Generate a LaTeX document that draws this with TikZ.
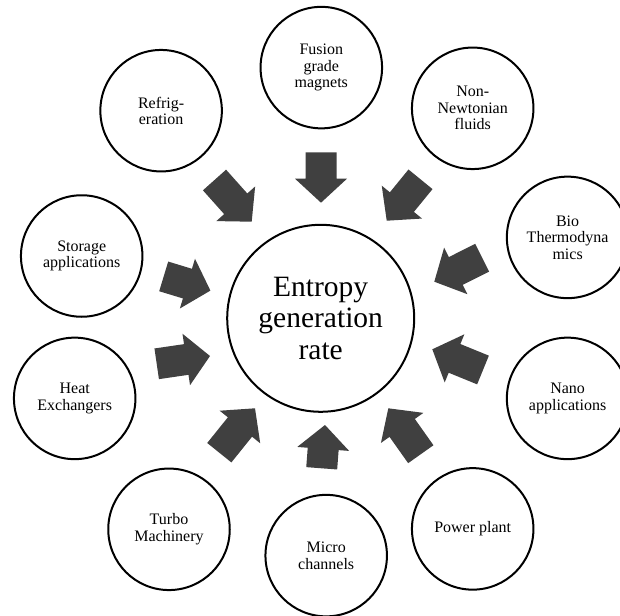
\documentclass[tikz,border=0pt]{standalone}
\usepackage{fontspec}
\setmainfont{Liberation Serif}
\usetikzlibrary{calc}
\definecolor{arrowgray}{RGB}{64,64,64}
\tikzset{
  outercirc/.style={circle, draw=black, line width=2pt, minimum size=121.5pt, inner sep=0pt,
    align=center, font=\fontsize{16}{16.5}\selectfont},
  centercirc/.style={circle, draw=black, line width=2pt, minimum size=187pt, inner sep=0pt,
    align=center, font=\fontsize{29.5}{31.6}\selectfont},
  arrowfill/.style={fill=arrowgray}
}
\newcommand{\blockarr}[2]{%
  \coordinate (nk) at ($(#2)!24pt!(#1)$);
  \fill[arrowfill] ($(#1)!15.5pt!90:(#2)$) -- ($(nk)!15.5pt!-90:(#1)$) -- ($(nk)!26pt!-90:(#1)$) -- (#2)
    -- ($(nk)!26pt!90:(#1)$) -- ($(nk)!15.5pt!90:(#1)$) -- ($(#1)!15.5pt!-90:(#2)$) -- cycle;}
\begin{document}
\begin{tikzpicture}[x=1pt,y=-1pt]
\fill[white] (0,0) rectangle (620,615);
\clip (0,0) rectangle (620,615);

\node[centercirc] (center) at (320.7,318.3) {Entropy\\generation\\rate};

\node[outercirc] (fusion) at (321.3,67.6) {Fusion\\grade\\magnets};
\node[outercirc] (refrig) at (161.1,110.7) {Refrig-\\eration};
\node[outercirc] (nonnewt) at (472.7,108.3) {Non-\\Newtonian\\fluids};
\node[outercirc] (bio) at (567.6,237.4) {Bio\\Thermodyna\\mics};
\node[outercirc] (storage) at (81.7,256) {Storage\\applications};
\node[outercirc] (heat) at (74.7,398.4) {Heat\\Exchangers};
\node[outercirc] (nano) at (567.6,398.4) {Nano\\applications};
\node[outercirc] (turbo) at (169,529.3) {Turbo\\Machinery};
\node[outercirc] (micro) at (326.2,555.6) {Micro\\channels};
\node[outercirc] (power) at (472.7,528.9) {Power plant};

% block arrows: tail midpoint (t) and tip (p)
\coordinate (t1) at (321,152.3);   \coordinate (p1) at (321,202.7);
\coordinate (t2) at (214.5,180);   \coordinate (p2) at (251.7,221.7);
\coordinate (t3) at (420.5,179.3); \coordinate (p3) at (386.7,220.7);
\coordinate (t4) at (482.2,257.7); \coordinate (p4) at (434.3,281.7);
\coordinate (t5) at (483,370);     \coordinate (p5) at (432.3,349.3);
\coordinate (t6) at (420.8,454.2); \coordinate (p6) at (388.3,408.3);
\coordinate (t7) at (321.7,468.3); \coordinate (p7) at (325,425);
\coordinate (t8) at (219.3,452.7); \coordinate (p8) at (255,408.3);
\coordinate (t9) at (156.7,363.8); \coordinate (p9) at (210,356);
\coordinate (t10) at (163.7,276.4); \coordinate (p10) at (210.4,290.6);

\blockarr{t1}{p1}
\blockarr{t2}{p2}
\blockarr{t3}{p3}
\blockarr{t4}{p4}
\blockarr{t5}{p5}
\blockarr{t6}{p6}
\blockarr{t7}{p7}
\blockarr{t8}{p8}
\blockarr{t9}{p9}
\blockarr{t10}{p10}
\end{tikzpicture}
\end{document}
